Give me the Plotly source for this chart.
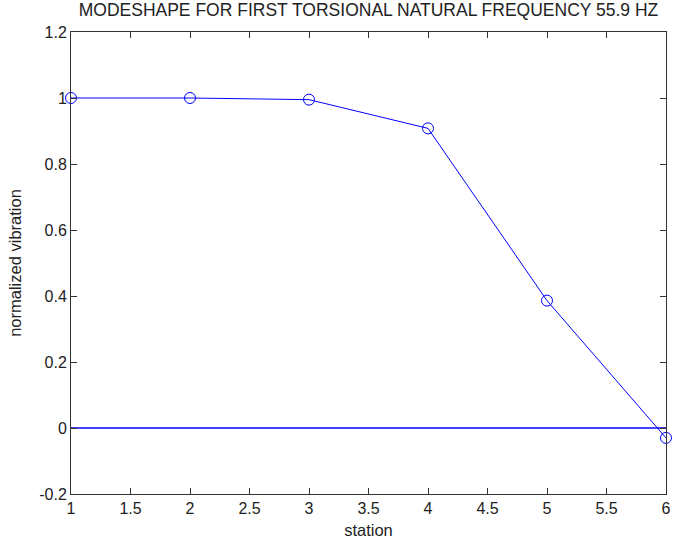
import plotly.graph_objects as go

station = [1, 2, 3, 4, 5, 6]
vibration = [1.0, 1.0, 0.995, 0.908, 0.386, -0.030]
zero_x = [1, 6]
zero_y = [0, 0]
x_ticks = [1, 1.5, 2, 2.5, 3, 3.5, 4, 4.5, 5, 5.5, 6]
x_labels = ["1", "1.5", "2", "2.5", "3", "3.5", "4", "4.5", "5", "5.5", "6"]
y_ticks = [-0.2, 0, 0.2, 0.4, 0.6, 0.8, 1, 1.2]
y_labels = ["-0.2", "0", "0.2", "0.4", "0.6", "0.8", "1", "1.2"]

FONT = "Liberation Sans, Arial"
TXT = "#222222"

fig = go.Figure()
fig.add_trace(go.Scatter(x=zero_x, y=zero_y, mode="lines",
                         line=dict(color="#0000FF", width=1.3), hoverinfo="skip"))
fig.add_trace(go.Scatter(x=station, y=vibration, mode="lines+markers",
                         line=dict(color="#0000FF", width=1),
                         marker=dict(symbol="circle-open", size=11, color="#0000FF", line=dict(width=1)),
                         cliponaxis=False))

axis_common = dict(showline=True, linecolor="#333333", linewidth=1, mirror="ticks",
                   ticks="inside", ticklen=6, tickcolor="#333333", showgrid=False,
                   zeroline=False, automargin=False,
                   tickfont=dict(family=FONT, size=16, color=TXT))
fig.update_layout(
    width=674, height=543,
    margin=dict(l=71, r=8, t=32, b=49),
    paper_bgcolor="white", plot_bgcolor="white",
    showlegend=False,
    title=dict(text="MODESHAPE FOR FIRST TORSIONAL NATURAL FREQUENCY 55.9 HZ",
               x=0.5, xanchor="center", xref="paper", y=0.993, yanchor="top",
               font=dict(family=FONT, size=17.5, color=TXT)),
    xaxis=dict(range=[1, 6], tickvals=x_ticks, ticktext=x_labels,
               title=dict(text="station", font=dict(family=FONT, size=16.5, color=TXT), standoff=8),
               **axis_common),
    yaxis=dict(range=[-0.2, 1.2], tickvals=y_ticks, ticktext=y_labels,
               title=dict(text="normalized vibration", font=dict(family=FONT, size=16.5, color=TXT), standoff=13),
               **axis_common),
)
fig.write_html("out.html")
